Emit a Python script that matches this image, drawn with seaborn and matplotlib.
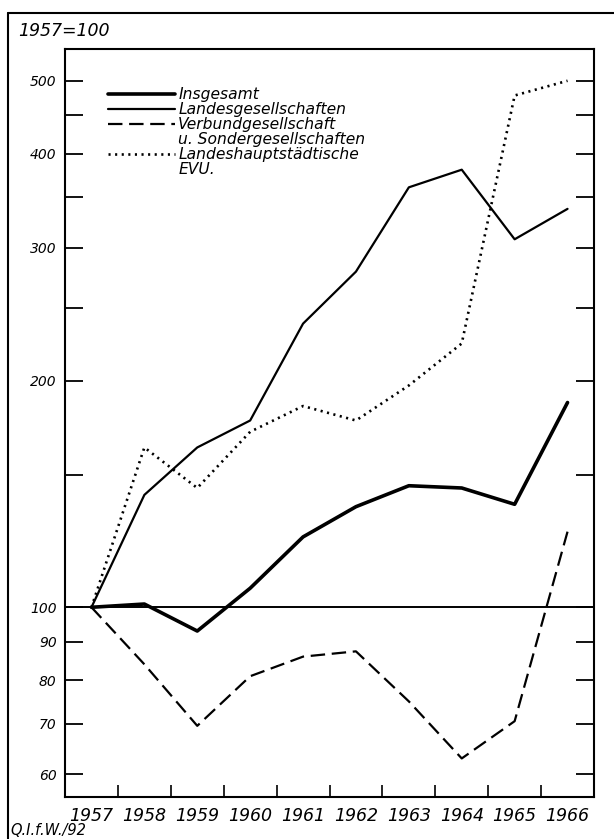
import numpy as np
import pandas as pd
import matplotlib
matplotlib.use('Agg')
import matplotlib.pyplot as plt
import seaborn as sns
from matplotlib.lines import Line2D
from matplotlib.ticker import FixedLocator, FixedFormatter, NullFormatter

# data (1957 = 100, ratio scale)
years = list(range(1957, 1967))
insgesamt = [100, 101, 93, 106, 124, 136, 145, 144, 137, 187]
landes = [100, 141, 163, 177, 238, 279, 361, 381, 308, 338]
verbund = [100, 84, 69.6, 81, 86, 87.4, 75, 63, 70.6, 126]
hauptstadt = [100, 163, 144, 171, 185, 177, 197, 224, 478, 500]

series_names = ['Insgesamt', 'Landesgesellschaften',
                'Verbundgesellschaft u. Sondergesellschaften',
                'Landeshauptstädtische EVU.']
ytick_vals = [60, 70, 80, 90, 100, 200, 300, 400, 500]
ytick_minor = [150, 250, 350, 450]

df = pd.DataFrame({
    'Jahr': years * 4,
    'Index': insgesamt + landes + verbund + hauptstadt,
    'Reihe': np.repeat(series_names, len(years)),
})

sns.set_style('white')
plt.rcParams['font.family'] = ['DejaVu Sans']
plt.rcParams['font.style'] = 'italic'
plt.rcParams['text.color'] = 'black'
plt.rcParams['xtick.color'] = 'black'
plt.rcParams['ytick.color'] = 'black'

fig = plt.figure(figsize=(6.14, 8.39), dpi=100)
ax = fig.add_axes([0.1059, 0.0501, 0.8615, 0.8915])

dash_map = {series_names[0]: '', series_names[1]: '',
            series_names[2]: (6.5, 3), series_names[3]: (0.8, 1.7)}
size_map = {series_names[0]: 2.6, series_names[1]: 1.6,
            series_names[2]: 1.6, series_names[3]: 1.9}

sns.lineplot(data=df, x='Jahr', y='Index', hue='Reihe', style='Reihe',
             size='Reihe', palette=['black'] * 4, dashes=dash_map,
             sizes=size_map, legend=False, ax=ax)
ax.axhline(100, color='black', lw=1.4)

ax.set_yscale('log')
ax.set_ylim(56, 551)
ax.set_xlim(1956.5, 1966.5)
ax.yaxis.set_major_locator(FixedLocator(ytick_vals))
ax.yaxis.set_major_formatter(FixedFormatter([str(v) for v in ytick_vals]))
ax.yaxis.set_minor_locator(FixedLocator(ytick_minor))
ax.yaxis.set_minor_formatter(NullFormatter())
ax.tick_params(axis='y', which='both', direction='in', length=13, width=1.3,
               left=True, right=True, labelsize=10, pad=6)

ax.set_xticks(years)
ax.set_xticklabels([str(y) for y in years])
ax.set_xticks([y + 0.5 for y in years[:-1]], minor=True)
ax.tick_params(axis='x', which='major', length=0, labelsize=12.5, pad=7)
ax.tick_params(axis='x', which='minor', direction='in', length=9, width=1.2,
               bottom=True)
ax.set_xlabel('')
ax.set_ylabel('')
for sp in ax.spines.values():
    sp.set_color('black')
    sp.set_linewidth(1.5)

handles = [Line2D([], [], color='black', lw=2.6),
           Line2D([], [], color='black', lw=1.6),
           Line2D([], [], color='black', lw=1.6, dashes=(6.5, 3)),
           Line2D([], [], color='none'),
           Line2D([], [], color='black', lw=1.9, dashes=(0.8, 1.7)),
           Line2D([], [], color='none')]
labels = ['Insgesamt', 'Landesgesellschaften', 'Verbundgesellschaft',
          'u. Sondergesellschaften', 'Landeshauptstädtische', 'EVU.']
ax.legend(handles, labels, loc='upper left', bbox_to_anchor=(0.07, 0.957),
          frameon=False, handlelength=4.3, handletextpad=0.2,
          labelspacing=0.0, fontsize=11.2, borderaxespad=0)

fig.text(0.03, 0.957, '1957=100', fontsize=12.5)
fig.text(0.017, 0.005, 'Q.I.f.W./92', fontsize=10.5)

fig.add_artist(Line2D([0.013, 1.0], [0.985, 0.985], transform=fig.transFigure,
                      color='black', lw=1.5))
fig.add_artist(Line2D([0.013, 0.013], [0.0, 0.985], transform=fig.transFigure,
                      color='black', lw=1.5))

fig.savefig('out.png', dpi=100)
